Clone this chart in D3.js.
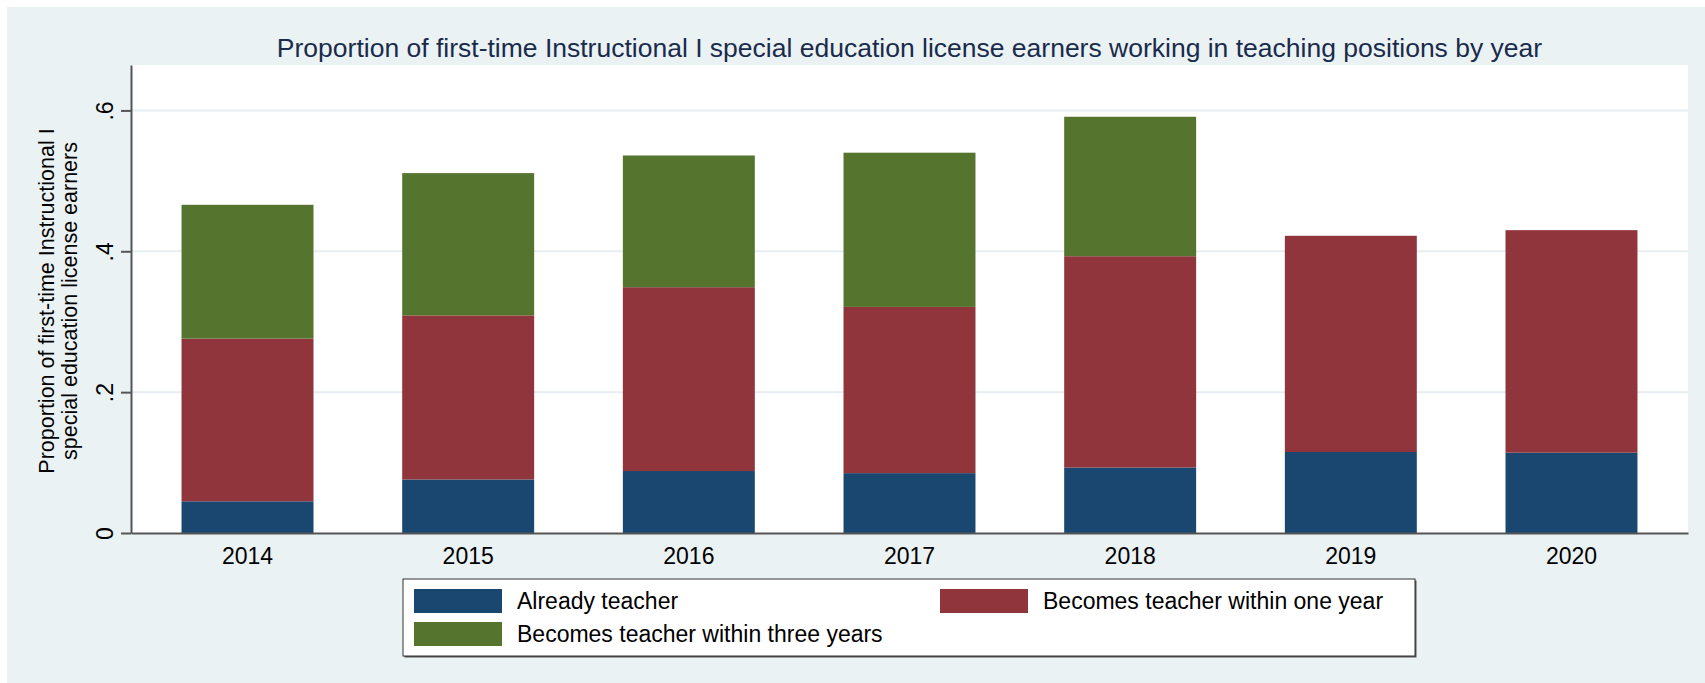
<!DOCTYPE html>
<html>
<head>
<meta charset="utf-8">
<script src="https://cdn.jsdelivr.net/npm/d3@7"></script>
<style>
  body { margin: 0; background: #fff; }
  svg { display: block; font-family: "Liberation Sans", Arial, sans-serif; }
</style>
</head>
<body>
<svg id="chart" width="1705" height="683"></svg>
<script>
// Data (share of license earners per segment)
const years = ["2014", "2015", "2016", "2017", "2018", "2019", "2020"];
const alreadyTeacher   = [0.045, 0.076, 0.088, 0.085, 0.093, 0.115, 0.114];
const withinOneYear    = [0.231, 0.233, 0.261, 0.236, 0.300, 0.307, 0.316];
const withinThreeYears = [0.190, 0.202, 0.187, 0.219, 0.198, 0, 0];
const seriesNames = ["Already teacher", "Becomes teacher within one year", "Becomes teacher within three years"];
const seriesColors = ["#1a476f", "#90353b", "#55752f"];
const yTicks = [0, 0.2, 0.4, 0.6];

const svg = d3.select("#chart");
const W = +svg.attr("width");
const H = +svg.attr("height");

// plot region
const plot = { left: 131, right: 1688, top: 65, bottom: 533 };

// graph region background
svg.append("rect")
    .attr("x", 7).attr("y", 7)
    .attr("width", W - 7).attr("height", H - 7)
    .attr("fill", "#eaf2f3");

svg.append("rect")
    .attr("x", plot.left).attr("y", plot.top)
    .attr("width", plot.right - plot.left)
    .attr("height", plot.bottom - plot.top)
    .attr("fill", "#fff");

// scales
const x = d3.scaleBand()
    .domain(years)
    .range([plot.left, plot.right])
    .paddingInner(0.402)
    .paddingOuter(0.229);

const y = d3.scaleLinear()
    .domain([0, 0.6645])
    .range([plot.bottom, plot.top]);

// gridlines
svg.append("g")
    .selectAll("line")
    .data(yTicks.filter(d => d > 0))
    .join("line")
    .attr("x1", plot.left).attr("x2", plot.right)
    .attr("y1", d => y(d)).attr("y2", d => y(d))
    .attr("stroke", "#e6eef1")
    .attr("stroke-width", 2);

// stack the three series
const rows = years.map((yr, i) => ({
    year: yr,
    a: alreadyTeacher[i],
    b: withinOneYear[i],
    c: withinThreeYears[i]
}));
const stacked = d3.stack().keys(["a", "b", "c"])(rows);

svg.append("g")
    .selectAll("g")
    .data(stacked)
    .join("g")
    .attr("fill", (d, i) => seriesColors[i])
    .selectAll("rect")
    .data(d => d.filter(p => p[1] - p[0] > 0))
    .join("rect")
    .attr("x", d => x(d.data.year))
    .attr("width", x.bandwidth())
    .attr("y", d => y(d[1]))
    .attr("height", d => y(d[0]) - y(d[1]));

// y axis
const fmt = d => d === 0 ? "0" : d3.format(".1f")(d).replace(/^0/, "");
const yAxis = svg.append("g")
    .attr("transform", `translate(${plot.left},0)`)
    .call(d3.axisLeft(y).tickValues(yTicks).tickSize(10).tickSizeOuter(0).tickFormat(fmt));
yAxis.select(".domain").attr("stroke", "#555").attr("stroke-width", 2);
yAxis.selectAll(".tick line").attr("stroke", "#555").attr("stroke-width", 2);
yAxis.selectAll(".tick text")
    .attr("x", null).attr("dy", null)
    .attr("transform", "translate(-18,0) rotate(-90)")
    .attr("text-anchor", "middle")
    .attr("fill", "#000")
    .style("font-size", "23px");

// x axis
const xAxis = svg.append("g")
    .attr("transform", `translate(0,${plot.bottom})`)
    .call(d3.axisBottom(x).tickSize(0).tickSizeOuter(0));
xAxis.select(".domain").attr("stroke", "#555").attr("stroke-width", 2);
xAxis.selectAll(".tick text")
    .attr("y", 31).attr("dy", null)
    .attr("fill", "#000")
    .style("font-size", "23px");

// y axis title (two lines)
const yTitle = svg.append("text")
    .attr("transform", `translate(54,${(plot.top + plot.bottom) / 2 + 2}) rotate(-90)`)
    .attr("text-anchor", "middle")
    .style("font-size", "21.5px")
    .attr("fill", "#000");
yTitle.append("tspan").attr("x", 0).attr("dy", 0).text("Proportion of first-time Instructional I");
yTitle.append("tspan").attr("x", 0).attr("dy", 23).text("special education license earners");

// title
svg.append("text")
    .attr("x", (plot.left + plot.right) / 2)
    .attr("y", 57)
    .attr("text-anchor", "middle")
    .style("font-size", "26.5px")
    .attr("fill", "#1a2b4c")
    .text("Proportion of first-time Instructional I special education license earners working in teaching positions by year");

// legend
const legend = svg.append("g").attr("transform", "translate(403,579)");
legend.append("rect")
    .attr("x", 1.5).attr("y", 1.5)
    .attr("width", 1012).attr("height", 77)
    .attr("fill", "#555");
legend.append("rect")
    .attr("width", 1012).attr("height", 77)
    .attr("fill", "#fff")
    .attr("stroke", "#333")
    .attr("stroke-width", 1);

const legendPos = [[11, 10], [537, 10], [11, 43]];
const items = legend.selectAll("g.item")
    .data(seriesNames)
    .join("g")
    .attr("class", "item")
    .attr("transform", (d, i) => `translate(${legendPos[i][0]},${legendPos[i][1]})`);
items.append("rect")
    .attr("width", 88).attr("height", 24)
    .attr("fill", (d, i) => seriesColors[i]);
items.append("text")
    .attr("x", 103).attr("y", 20)
    .style("font-size", "23px")
    .attr("fill", "#000")
    .text(d => d);
</script>
</body>
</html>
